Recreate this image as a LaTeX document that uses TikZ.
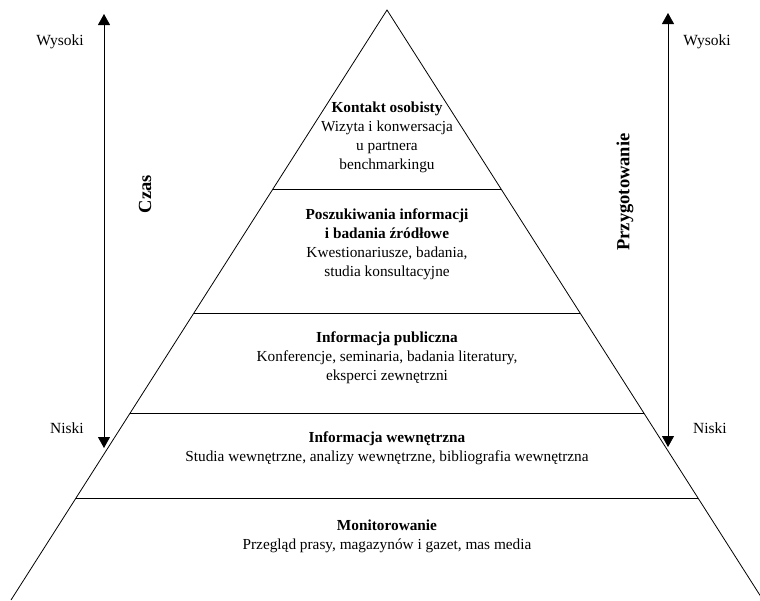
\documentclass[tikz,border=0pt]{standalone}
\usepackage{fontspec}
\setmainfont{Liberation Serif}
\usetikzlibrary{calc,arrows.meta}
\begin{document}
\begin{tikzpicture}[x=1pt,y=-1pt,
  edge/.style={line width=0.8pt},
  tier/.style={align=center,font=\fontsize{15.3}{19}\selectfont,inner sep=0pt},
  level/.style={font=\fontsize{15.5}{17}\selectfont,inner sep=0pt},
  axislabel/.style={font=\fontsize{18.5}{20}\selectfont\bfseries,rotate=90,inner sep=0pt},
  axis/.style={line width=0.8pt,{Triangle[length=11pt,width=12pt]}-{Triangle[length=11pt,width=12pt]}}]
  \useasboundingbox (0,0) rectangle (760,600);
  \clip (0,0) rectangle (760,600);

  % pyramid outline
  \coordinate (apex) at (387,10);
  \coordinate (bl) at (11,600);
  \coordinate (br) at (763,600);
  \draw[edge] (bl) -- (apex) -- (br);

  % dividing lines between the tiers
  \foreach \y/\n in {189/a,313/b,413/c,498/d}{
    \coordinate (l\n) at ($(apex)!{(\y-10)/590}!(bl)$);
    \coordinate (r\n) at ($(apex)!{(\y-10)/590}!(br)$);
    \draw[edge] (l\n) -- (r\n);
  }

  % tier texts
  \node[tier] (t1) at (387,137) {\textbf{Kontakt osobisty}\\Wizyta i konwersacja\\u partnera\\benchmarkingu};
  \node[tier] (t2) at (387,244) {\textbf{Poszukiwania informacji}\\\textbf{i badania źródłowe}\\Kwestionariusze, badania,\\studia konsultacyjne};
  \node[tier] (t3) at (387,358) {\textbf{Informacja publiczna}\\Konferencje, seminaria, badania literatury,\\eksperci zewnętrzni};
  \node[tier] (t4) at (387,448) {\textbf{Informacja wewnętrzna}\\Studia wewnętrzne, analizy wewnętrzne, bibliografia wewnętrzna};
  \node[tier] (t5) at (387,536) {\textbf{Monitorowanie}\\Przegląd prasy, magazynów i gazet, mas media};

  % left axis: time
  \coordinate (lt) at (104,14);
  \coordinate (lb) at (104,448);
  \draw[axis] (lb) -- (lt);
  \node[level] (lhi) at (60,42) {Wysoki};
  \node[level] (llo) at (67,428) {Niski};
  \node[axislabel] (czas) at (145,194) {Czas};

  % right axis: preparation
  \coordinate (rt) at (668,13);
  \coordinate (rb) at (668,447);
  \draw[axis] (rb) -- (rt);
  \node[level] (rhi) at (707,42) {Wysoki};
  \node[level] (rlo) at (710,428) {Niski};
  \node[axislabel] (przyg) at (625,192) {Przygotowanie};
\end{tikzpicture}
\end{document}
